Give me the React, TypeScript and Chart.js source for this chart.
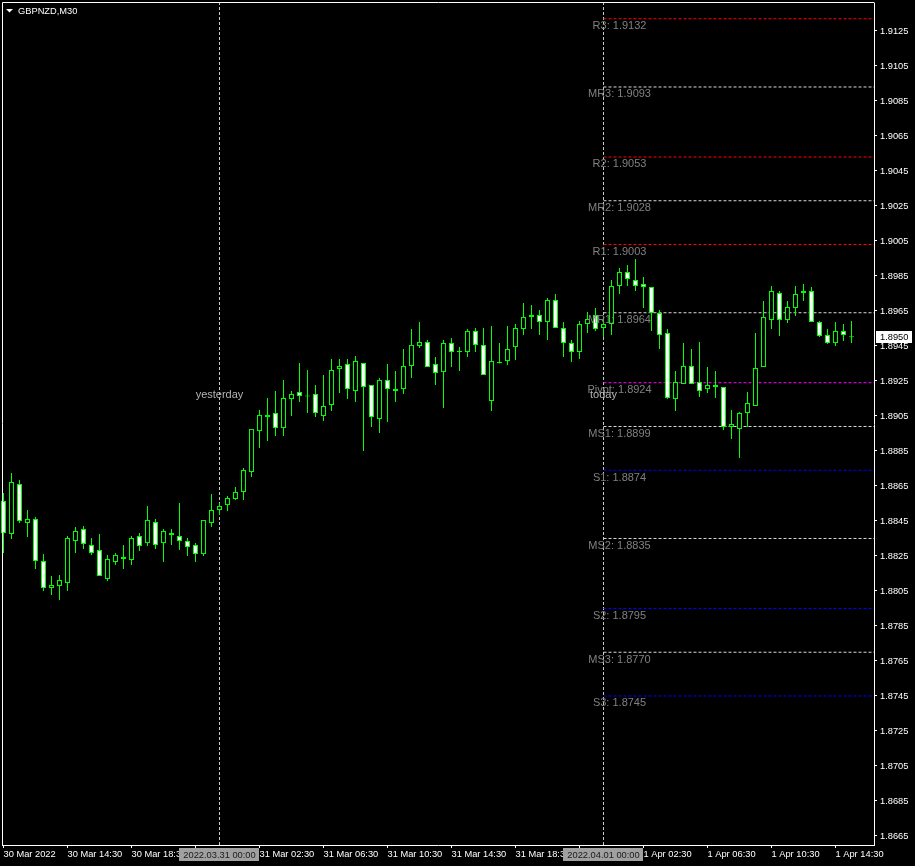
import React, { useEffect, useRef } from "react";
import { Chart, registerables } from "chart.js";

Chart.register(...registerables);

const symbolTitle = "GBPNZD,M30";

// 30-minute candles, 30 Mar 10:30 .. 1 Apr 15:30
const opens = [
  1.88564, 1.88376, 1.88661, 1.88439, 1.88461, 1.88221, 1.88067, 1.88079, 1.88096, 1.88336,
  1.88404, 1.88313, 1.88284, 1.88119, 1.88216, 1.88244, 1.88227, 1.88364, 1.88324, 1.88444,
  1.88324, 1.8837, 1.88364, 1.88336, 1.88313, 1.88261, 1.88439, 1.88513, 1.88541, 1.88576,
  1.88616, 1.8873, 1.88964, 1.89044, 1.89067, 1.88981, 1.89147, 1.89187, 1.89164, 1.89176,
  1.8905, 1.89113, 1.89319, 1.89347, 1.89193, 1.89353, 1.89227, 1.89033, 1.89256, 1.89193,
  1.89204, 1.89336, 1.8945, 1.89473, 1.89347, 1.89301, 1.89467, 1.89416, 1.89416, 1.89536,
  1.89456, 1.89136, 1.89353, 1.89364, 1.89444, 1.89547, 1.89627, 1.89627, 1.89587, 1.89713,
  1.89553, 1.89467, 1.89416, 1.89576, 1.89627, 1.89553, 1.89576, 1.89793, 1.89873, 1.89827,
  1.89804, 1.89787, 1.89639, 1.89524, 1.89147, 1.89233, 1.89336, 1.89244, 1.89204, 1.89227,
  1.89216, 1.88987, 1.88976, 1.89067, 1.89107, 1.8933, 1.89599, 1.89753, 1.89599, 1.89667,
  1.89764, 1.89764, 1.89587, 1.89513, 1.89467, 1.89536, 1.89502,
];
const highs = [
  1.8861, 1.88724, 1.88684, 1.88513, 1.88473, 1.88261, 1.88136, 1.88141, 1.88364, 1.88416,
  1.88421, 1.88353, 1.88376, 1.88256, 1.88267, 1.88313, 1.88364, 1.88381, 1.88536, 1.88461,
  1.88404, 1.88404, 1.88553, 1.88353, 1.88324, 1.88456, 1.88604, 1.88553, 1.88593, 1.88644,
  1.88753, 1.88976, 1.89084, 1.89153, 1.89193, 1.89256, 1.89193, 1.89353, 1.89313, 1.89227,
  1.89284, 1.89376, 1.89376, 1.89376, 1.89393, 1.89353, 1.89227, 1.89267, 1.89347, 1.89307,
  1.89433, 1.89547, 1.89587, 1.89484, 1.89387, 1.89484, 1.89496, 1.89444, 1.89547, 1.89553,
  1.89553, 1.89564, 1.89467, 1.89564, 1.89576, 1.89696, 1.89684, 1.89656, 1.89724, 1.89747,
  1.89587, 1.89484, 1.89593, 1.89644, 1.89667, 1.89604, 1.89827, 1.89896, 1.89913, 1.89947,
  1.89844, 1.89787, 1.89656, 1.89547, 1.89307, 1.89467, 1.89433, 1.89473, 1.8933, 1.89307,
  1.89216, 1.89084, 1.89073, 1.89187, 1.89524, 1.89707, 1.89793, 1.89764, 1.89707, 1.89793,
  1.89804, 1.89787, 1.89593, 1.89547, 1.89587, 1.89576, 1.89593,
];
const lows = [
  1.88267, 1.88347, 1.88439, 1.88359, 1.88176, 1.8805, 1.88027, 1.87999, 1.8805, 1.88267,
  1.8829, 1.88256, 1.88136, 1.88107, 1.88199, 1.88176, 1.88199, 1.88279, 1.88307, 1.8829,
  1.88216, 1.88313, 1.88284, 1.8825, 1.88216, 1.8825, 1.88416, 1.88484, 1.88507, 1.8857,
  1.8857, 1.88701, 1.88867, 1.88907, 1.88936, 1.88936, 1.8905, 1.8913, 1.89067, 1.89044,
  1.89021, 1.89079, 1.89181, 1.89147, 1.8913, 1.8885, 1.88987, 1.88953, 1.89016, 1.8913,
  1.89176, 1.89267, 1.89439, 1.8933, 1.89227, 1.89096, 1.8933, 1.89307, 1.89387, 1.89416,
  1.89284, 1.89079, 1.8935, 1.89341, 1.8937, 1.89513, 1.89547, 1.89513, 1.89484, 1.89553,
  1.89387, 1.89359, 1.89376, 1.89524, 1.89536, 1.89501, 1.89513, 1.89747, 1.89793, 1.89764,
  1.89667, 1.89536, 1.89433, 1.89147, 1.89079, 1.89233, 1.89233, 1.89159, 1.89181, 1.89153,
  1.8897, 1.88919, 1.8881, 1.88987, 1.89107, 1.8933, 1.89547, 1.89507, 1.89581, 1.89621,
  1.89707, 1.89587, 1.89501, 1.89461, 1.8945, 1.89479, 1.89467,
];
const closes = [
  1.88381, 1.88673, 1.8845, 1.88461, 1.88221, 1.88067, 1.88084, 1.88113, 1.88353, 1.88393,
  1.88319, 1.88267, 1.88136, 1.88233, 1.88256, 1.88233, 1.88353, 1.88307, 1.88456, 1.88313,
  1.88393, 1.88381, 1.88336, 1.88301, 1.88261, 1.88456, 1.88513, 1.88536, 1.88581, 1.88616,
  1.88741, 1.88976, 1.89056, 1.89056, 1.88981, 1.89153, 1.89176, 1.89164, 1.89162, 1.89067,
  1.89107, 1.89313, 1.89336, 1.89204, 1.89364, 1.89216, 1.89044, 1.89256, 1.89204, 1.89204,
  1.89336, 1.89456, 1.89473, 1.8933, 1.89296, 1.89467, 1.89416, 1.89418, 1.89536, 1.89456,
  1.89284, 1.89364, 1.89355, 1.89433, 1.89553, 1.89616, 1.89616, 1.89587, 1.89713, 1.89553,
  1.89467, 1.89416, 1.89576, 1.89604, 1.89547, 1.89576, 1.89793, 1.89873, 1.89833, 1.89793,
  1.89787, 1.89639, 1.89513, 1.89153, 1.89244, 1.89336, 1.89233, 1.89193, 1.89227, 1.89216,
  1.88987, 1.89004, 1.89067, 1.89124, 1.89324, 1.89616, 1.89764, 1.89599, 1.89673, 1.89747,
  1.89753, 1.89587, 1.89507, 1.89467, 1.89536, 1.89513, 1.895,
];

const xTickIndex = [0, 8, 16, 24, 32, 40, 48, 56, 64, 72, 80, 88, 96, 104];
const xTickLabels = [
  "30 Mar 2022", "30 Mar 14:30", "30 Mar 18:30", "30 Mar 22:30", "31 Mar 02:30",
  "31 Mar 06:30", "31 Mar 10:30", "31 Mar 14:30", "31 Mar 18:30", "31 Mar 22:30",
  "1 Apr 02:30", "1 Apr 06:30", "1 Apr 10:30", "1 Apr 14:30",
];
const yTickValues = [
  1.9125, 1.9105, 1.9085, 1.9065, 1.9045, 1.9025, 1.9005, 1.8985, 1.8965, 1.8945, 1.8925, 1.8905,
  1.8885, 1.8865, 1.8845, 1.8825, 1.8805, 1.8785, 1.8765, 1.8745, 1.8725, 1.8705, 1.8685, 1.8665,
];

const pivotNames = ["R3", "MR3", "R2", "MR2", "R1", "MR1", "Pivot", "MS1", "S1", "MS2", "S2", "MS3", "S3"];
const pivotValues = [1.9132, 1.9093, 1.9053, 1.9028, 1.9003, 1.8964, 1.8924, 1.8899, 1.8874, 1.8835, 1.8795, 1.877, 1.8745];
const pivotKinds = ["R", "M", "R", "M", "R", "M", "P", "M", "S", "M", "S", "M", "S"];
const pivotLabelIndex = 77;

const separatorIndex = [27, 75];
const separatorLabels = ["2022.03.31 00:00", "2022.04.01 00:00"];
const sessionLabels = ["yesterday", "today"];
const sessionLabelPrice = 1.8915;
const currentPrice = 1.895;

const X_MIN = -0.1875;
const X_MAX = 108.8125;
const Y_MAX = 1.9141;
const Y_MIN = 1.8659857;

const FONT = '"Liberation Sans", Arial, sans-serif';
const GREEN = "#00ff00";

function kindColor(k: string) {
  if (k === "R") return "#ff0000";
  if (k === "S") return "#0000ff";
  if (k === "P") return "#ff00ff";
  return "#d8d8d8";
}

export default function App() {
  const ref = useRef<HTMLCanvasElement>(null);

  useEffect(() => {
    const canvas = ref.current;
    if (!canvas) return;
    const idx = opens.map((_, i) => i);

    const overlay = {
      id: "mt4overlay",
      beforeDraw(chart: any) {
        const c = chart.ctx;
        c.save();
        c.fillStyle = "#000";
        c.fillRect(0, 0, chart.width, chart.height);
        c.restore();
      },
      afterDraw(chart: any) {
        const c = chart.ctx;
        const xs = chart.scales.x;
        const ys = chart.scales.y;
        const area = chart.chartArea;
        c.save();
        // frame top/left
        c.strokeStyle = "#ffffff";
        c.lineWidth = 1;
        c.beginPath();
        c.moveTo(area.left + 0.5, area.bottom);
        c.lineTo(area.left + 0.5, area.top - 0.5);
        c.lineTo(area.right + 0.5, area.top - 0.5);
        c.stroke();

        // pivot labels
        c.font = `11px ${FONT}`;
        c.fillStyle = "#808080";
        c.textAlign = "center";
        c.textBaseline = "alphabetic";
        const lx = xs.getPixelForValue(pivotLabelIndex);
        pivotNames.forEach((n, k) => {
          const py = ys.getPixelForValue(pivotValues[k]);
          c.fillText(`${n}: ${pivotValues[k].toFixed(4)}`, lx, py + 10.5);
        });

        // session labels
        c.fillStyle = "#b4b4b4";
        const sy = ys.getPixelForValue(sessionLabelPrice);
        separatorIndex.forEach((si, k) => {
          c.fillText(sessionLabels[k], xs.getPixelForValue(si), sy);
        });

        // title
        c.fillStyle = "#ffffff";
        c.beginPath();
        c.moveTo(6, 9);
        c.lineTo(13, 9);
        c.lineTo(9.5, 12.5);
        c.closePath();
        c.fill();
        c.font = `9.3px ${FONT}`;
        c.textAlign = "left";
        c.fillText(symbolTitle, 18, 14);

        // separator date boxes
        separatorIndex.forEach((si, k) => {
          const cx = xs.getPixelForValue(si);
          c.fillStyle = "#a0a0a0";
          c.fillRect(Math.floor(cx) - 40, 848, 80, 13);
          c.fillStyle = "#1a1a1a";
          c.textAlign = "center";
          c.textBaseline = "middle";
          c.fillText(separatorLabels[k], cx, 855);
        });

        // current price box
        const py = ys.getPixelForValue(currentPrice);
        c.fillStyle = "#ffffff";
        c.fillRect(area.right + 2, Math.round(py) - 6, 36, 12);
        c.fillStyle = "#000000";
        c.textAlign = "left";
        c.textBaseline = "middle";
        c.fillText(currentPrice.toFixed(4), area.right + 6, py);
        c.restore();
      },
    };

    const pivotSets = pivotValues.map((v, k) => ({
      type: "line" as const,
      data: [
        { x: separatorIndex[1], y: v },
        { x: X_MAX, y: v },
      ],
      borderColor: kindColor(pivotKinds[k]),
      borderWidth: 1,
      borderDash: [3, 2],
      pointRadius: 0,
      fill: false,
      order: 2,
    }));
    const sepSets = separatorIndex.map((si) => ({
      type: "line" as const,
      data: [
        { x: si, y: Y_MIN },
        { x: si, y: Y_MAX },
      ],
      borderColor: "#c8c8c8",
      borderWidth: 1,
      borderDash: [3, 2],
      pointRadius: 0,
      fill: false,
      order: 3,
    }));

    const chart = new Chart(canvas, {
      type: "bar",
      data: {
        datasets: [
          {
            type: "bar",
            data: idx.map((i) => ({ x: i, y: [opens[i], closes[i]] })),
            backgroundColor: idx.map((i) => (closes[i] < opens[i] ? "#ffffff" : "#000000")),
            borderColor: GREEN,
            borderWidth: 1,
            borderSkipped: false,
            barThickness: 5,
            grouped: false,
            minBarLength: 1,
            inflateAmount: 0,
            clip: false,
            order: 0,
          } as any,
          {
            type: "bar",
            data: idx.map((i) => ({ x: i, y: [lows[i], highs[i]] })),
            backgroundColor: GREEN,
            borderWidth: 0,
            barThickness: 1,
            grouped: false,
            inflateAmount: 0,
            clip: false,
            order: 1,
          } as any,
          ...(pivotSets as any[]),
          ...(sepSets as any[]),
        ],
      },
      options: {
        animation: false,
        responsive: false,
        devicePixelRatio: 1,
        events: [],
        layout: { padding: { left: 2, top: 3, right: 0, bottom: 0 } },
        plugins: { legend: { display: false }, tooltip: { enabled: false } },
        scales: {
          x: {
            type: "linear",
            min: X_MIN,
            max: X_MAX,
            offset: false,
            afterBuildTicks: (s: any) => {
              s.ticks = xTickIndex.map((v) => ({ value: v }));
            },
            afterFit: (s: any) => {
              s.height = 21;
              s.paddingLeft = 0;
              s.paddingRight = 0;
            },
            ticks: {
              autoSkip: false,
              maxRotation: 0,
              minRotation: 0,
              align: "start",
              color: "#ffffff",
              padding: 1,
              font: { family: FONT, size: 9.3 },
              callback: (_v: any, i: number) => xTickLabels[i] ?? "",
            },
            grid: { drawOnChartArea: false, drawTicks: true, tickLength: 3, color: "#ffffff", offset: false },
            border: { display: true, color: "#ffffff", width: 1 },
          } as any,
          y: {
            type: "linear",
            position: "right",
            min: Y_MIN,
            max: Y_MAX,
            afterBuildTicks: (s: any) => {
              s.ticks = yTickValues.map((v) => ({ value: v }));
            },
            afterFit: (s: any) => {
              s.width = 41;
              s.paddingTop = 0;
              s.paddingBottom = 0;
            },
            ticks: {
              autoSkip: false,
              color: "#ffffff",
              padding: 3,
              font: { family: FONT, size: 9.3 },
              callback: (v: any) => Number(v).toFixed(4),
            },
            grid: { drawOnChartArea: false, drawTicks: true, tickLength: 3, color: "#ffffff" },
            border: { display: true, color: "#ffffff", width: 1 },
          } as any,
        },
      },
      plugins: [overlay],
    });
    return () => chart.destroy();
  }, []);

  return (
    <div style={{ position: "absolute", left: 0, top: 0, width: 915, height: 866, background: "#000" }}>
      <canvas ref={ref} width={915} height={866} style={{ display: "block", width: 915, height: 866 }} />
    </div>
  );
}
